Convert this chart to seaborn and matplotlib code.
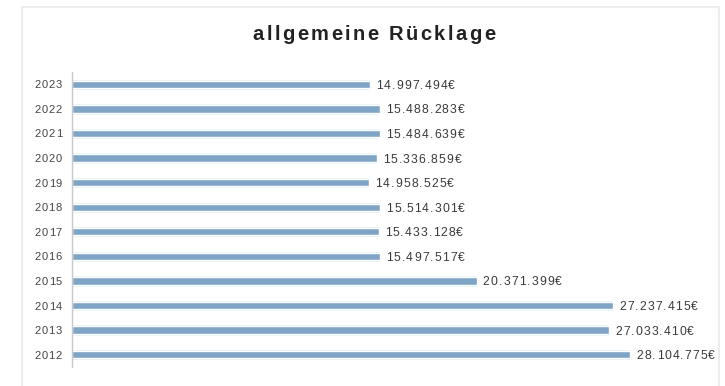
import matplotlib
matplotlib.use("Agg")
import matplotlib.pyplot as plt
import seaborn as sns
import pandas as pd
from matplotlib.patches import Rectangle
from matplotlib.font_manager import FontProperties

years = ["2023", "2022", "2021", "2020", "2019", "2018", "2017", "2016", "2015", "2014", "2013", "2012"]
reserve = [14997494, 15488283, 15484639, 15336859, 14958525, 15514301,
           15433128, 15497517, 20371399, 27237415, 27033410, 28104775]
title = "allgemeine Rücklage"

df = pd.DataFrame({"Jahr": years, "Rücklage": reserve})

sns.set_theme(style="white")
plt.rcParams["font.family"] = ["Liberation Sans", "DejaVu Sans"]

DPI = 100
fig = plt.figure(figsize=(7.25, 3.86), dpi=DPI)
fig.patch.set_facecolor("white")
renderer = fig.canvas.get_renderer()


def tracked_text(ax, xy, xycoords, s, prop, color, spacing_px, ha="left", shift_px=0.0):
    """Write a string character by character with extra letter spacing."""
    widths = [renderer.get_text_width_height_descent(ch, prop, ismath=False)[0] for ch in s]
    total = sum(widths) + spacing_px * (len(s) - 1)
    pos = shift_px - {"left": 0.0, "center": total / 2, "right": total}[ha]
    for ch, w in zip(s, widths):
        ax.annotate(ch, xy=xy, xycoords=xycoords,
                    xytext=(pos * 72 / DPI, 0), textcoords="offset points",
                    ha="left", va="center_baseline", fontproperties=prop, color=color,
                    annotation_clip=False)
        pos += w + spacing_px


# faint outer frame of the chart area
fig.add_artist(Rectangle((22 / 725, -0.01), (719 - 22) / 725, 1 - 7 / 386 + 0.01,
                         transform=fig.transFigure, fill=False,
                         edgecolor="#ececec", linewidth=1.5))

ax = fig.add_axes([72 / 725, 1 - 367 / 386, (712 - 72) / 725, (367 - 72) / 386])

# soft halo behind each bar
sns.barplot(data=df, y="Jahr", x="Rücklage", order=years, orient="h",
            color="#dcedf8", width=0.46, ax=ax, saturation=1)
sns.barplot(data=df, y="Jahr", x="Rücklage", order=years, orient="h",
            color="#80a4c6", width=0.3, ax=ax, saturation=1)

ax.set_xlim(0, (712 - 72) / 19.87 * 1e6)
ax.set_ylim(11.5, -0.5)
ax.set_xlabel("")
ax.set_ylabel("")
ax.set_xticks([])
ax.set_yticks([])
for s in ["top", "right", "bottom"]:
    ax.spines[s].set_visible(False)
ax.spines["left"].set_color("#c8c8c8")
ax.spines["left"].set_linewidth(1.0)

tick_prop = FontProperties(family="Liberation Sans", size=8.0)
value_prop = FontProperties(family="Liberation Sans", size=8.7)
title_prop = FontProperties(family="Liberation Sans", size=14.5, weight="bold")

for i, (yr, v) in enumerate(zip(years, reserve)):
    tracked_text(ax, (0, i), "data", yr, tick_prop, "#444444", 1.0, ha="right", shift_px=-10)
    label = f"{v:,}".replace(",", ".") + "€"
    tracked_text(ax, (v, i), "data", label, value_prop, "#3a3a3a", 1.1, ha="left", shift_px=6)

tracked_text(ax, (374 / 725, 1 - 32 / 386), "figure fraction", title, title_prop,
             "#222222", 2.4, ha="center")

fig.savefig("out.png", dpi=DPI)
